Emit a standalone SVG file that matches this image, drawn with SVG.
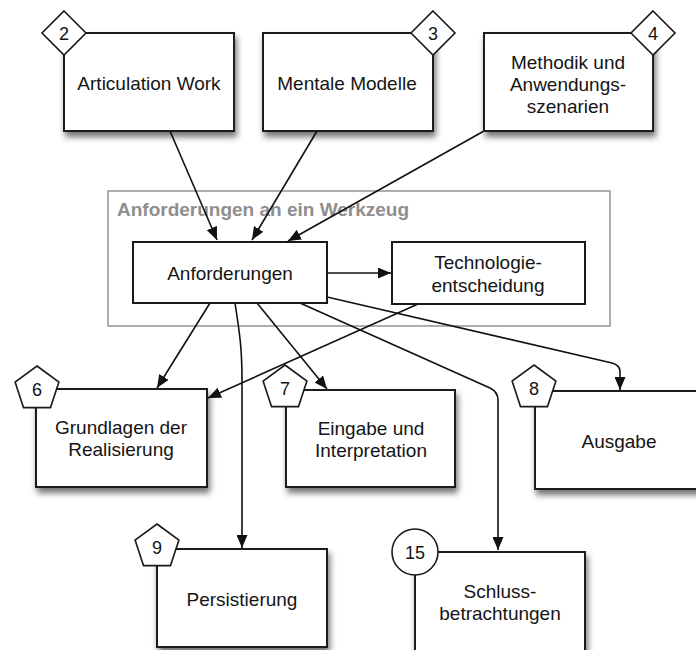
<svg xmlns="http://www.w3.org/2000/svg" width="696" height="650" viewBox="0 0 696 650">
  <style>
    .box { fill: #ffffff; stroke: #1a1a1a; stroke-width: 2; }
    .shadowed { filter: url(#shadow); }
    .label { font-family: "Liberation Sans", Arial, Helvetica, sans-serif; font-size: 19px; fill: #141414; text-anchor: middle; }
    .badge { fill: #ffffff; stroke: #1a1a1a; stroke-width: 1.6; }
    .num { font-family: "Liberation Sans", Arial, Helvetica, sans-serif; font-size: 18px; fill: #141414; text-anchor: middle; }
    .edge { fill: none; stroke: #111111; stroke-width: 1.6; marker-end: url(#arrow); }
    .group { fill: none; stroke: #9a9a9a; stroke-width: 1.6; }
    .gtitle { font-family: "Liberation Sans", Arial, Helvetica, sans-serif; font-size: 19px; font-weight: bold; fill: #8e8e8e; }
  </style>
  <defs>
    <filter id="shadow" x="-10%" y="-10%" width="130%" height="135%">
      <feDropShadow dx="2" dy="5" stdDeviation="3" flood-color="#000000" flood-opacity="0.55"/>
    </filter>
    <marker id="arrow" markerUnits="userSpaceOnUse" markerWidth="13" markerHeight="11" refX="13" refY="5.5" orient="auto">
      <path d="M0,0 L13,5.5 L0,11 z" fill="#111111"/>
    </marker>
  </defs>

  <!-- grouping frame -->
  <g id="frame">
    <rect class="group" x="108" y="191" width="502" height="135"/>
    <text class="gtitle" x="117" y="216">Anforderungen an ein Werkzeug</text>
  </g>

  <!-- connectors -->
  <g id="connectors">
    <path class="edge" d="M170,131 L217,240"/>
    <path class="edge" d="M317,131 L252,240"/>
    <path class="edge" d="M484,131 L288,241"/>
    <path class="edge" d="M327,273 L391,273"/>
    <path class="edge" d="M210,303 L157,388"/>
    <path class="edge" d="M418,304 L208,398"/>
    <path class="edge" d="M235,303 C240,335 242,350 242,380 L242,548"/>
    <path class="edge" d="M257,303 L327,389"/>
    <path class="edge" d="M300,303 L490,388 Q498,392 498,400 L498,550"/>
    <path class="edge" d="M327,297 L612,363 Q620,365 620,372 L620,390"/>
  </g>

  <!-- top row -->
  <g id="n2">
    <rect class="box shadowed" x="64" y="33" width="170" height="98"/>
    <text class="label" x="149" y="90">Articulation Work</text>
    <polygon class="badge" points="64,11 86,33 64,55 42,33"/>
    <text class="num" x="64" y="40">2</text>
  </g>
  <g id="n3">
    <rect class="box shadowed" x="263" y="33" width="170" height="98"/>
    <text class="label" x="347" y="90">Mentale Modelle</text>
    <polygon class="badge" points="433,11 455,33 433,55 411,33"/>
    <text class="num" x="433" y="40">3</text>
  </g>
  <g id="n4">
    <rect class="box shadowed" x="484" y="33" width="169" height="98"/>
    <text class="label" x="568" y="69">Methodik und</text>
    <text class="label" x="568" y="91">Anwendungs-</text>
    <text class="label" x="568" y="113">szenarien</text>
    <polygon class="badge" points="653,11 675,33 653,55 631,33"/>
    <text class="num" x="653" y="40">4</text>
  </g>

  <!-- inner nodes -->
  <g id="anforderungen">
    <rect class="box" x="133" y="242" width="194" height="61"/>
    <text class="label" x="230" y="280">Anforderungen</text>
  </g>
  <g id="technologie">
    <rect class="box" x="392" y="242" width="193" height="62"/>
    <text class="label" x="488" y="269">Technologie-</text>
    <text class="label" x="488" y="292">entscheidung</text>
  </g>

  <!-- middle row -->
  <g id="n6">
    <rect class="box shadowed" x="36" y="389" width="171" height="98"/>
    <text class="label" x="121" y="434">Grundlagen der</text>
    <text class="label" x="121" y="456">Realisierung</text>
    <polygon class="badge" points="37,366 58.9,382 50.5,407.6 23.5,407.6 15.1,382"/>
    <text class="num" x="37" y="396">6</text>
  </g>
  <g id="n7">
    <rect class="box shadowed" x="286" y="390" width="169" height="97"/>
    <text class="label" x="371" y="435">Eingabe und</text>
    <text class="label" x="371" y="457">Interpretation</text>
    <polygon class="badge" points="285,365 306.9,381 298.5,406.6 271.5,406.6 263.1,381"/>
    <text class="num" x="285" y="395">7</text>
  </g>
  <g id="n8">
    <rect class="box shadowed" x="535" y="391" width="170" height="98"/>
    <text class="label" x="619" y="448">Ausgabe</text>
    <polygon class="badge" points="534,365 555.9,381 547.5,406.6 520.5,406.6 512.1,381"/>
    <text class="num" x="534" y="395">8</text>
  </g>

  <!-- bottom row -->
  <g id="n9">
    <rect class="box shadowed" x="157" y="549" width="170" height="98"/>
    <text class="label" x="242" y="606">Persistierung</text>
    <polygon class="badge" points="157,524 178.9,540 170.5,565.6 143.5,565.6 135.1,540"/>
    <text class="num" x="157" y="554">9</text>
  </g>
  <g id="n15">
    <rect class="box shadowed" x="415" y="552" width="170" height="100"/>
    <text class="label" x="500" y="598">Schluss-</text>
    <text class="label" x="500" y="620">betrachtungen</text>
    <circle class="badge" cx="415" cy="552" r="23"/>
    <text class="num" x="415" y="558.5">15</text>
  </g>
</svg>
